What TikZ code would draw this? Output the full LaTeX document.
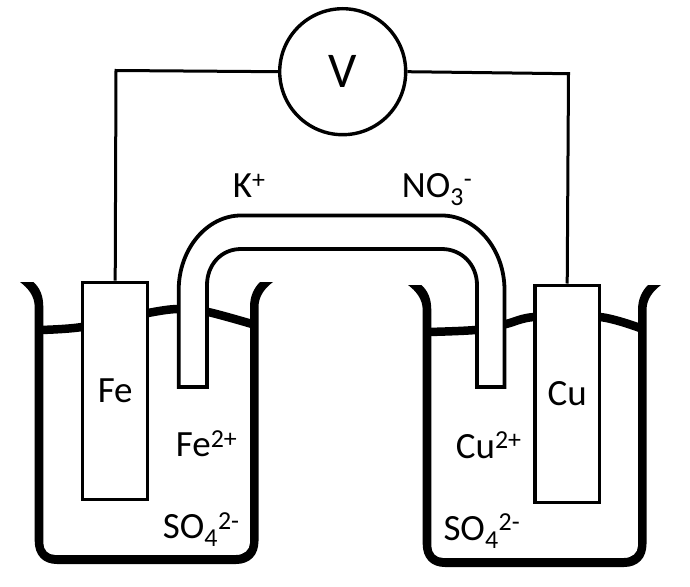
\documentclass[tikz,border=0pt]{standalone}
\usepackage{fontspec}
\setmainfont{Carlito}

\tikzset{
    wire/.style={line width=3pt},
    surface/.style={line width=8.5pt},
    electrode/.style={draw, fill=white, line width=3.4pt, minimum width=65pt, minimum height=217pt, inner sep=0pt, font=\fontsize{37}{40}\selectfont},
    voltmeter/.style={circle, draw, fill=white, line width=3.4pt, minimum size=126pt, inner sep=0pt, font=\fontsize{50}{52}\selectfont},
    ion/.style={anchor=base west, inner sep=0pt, font=\fontsize{37}{40}\selectfont},
    beaker/.pic={
        \fill (20,282) -- (33.5,282) .. controls (40,288) and (43.3,296) .. (43.3,307)
            -- (43.3,543) .. controls (43.3,550) and (48,555) .. (55,555)
            -- (236,555) .. controls (244,555) and (250,550) .. (250,543)
            -- (250,307) .. controls (250,296) and (254,288) .. (260,282)
            -- (273,282) .. controls (265,288) and (258.5,296) .. (258.5,307)
            -- (258.5,541) .. controls (258.5,555) and (250,564) .. (236,564)
            -- (57,564) .. controls (43,564) and (34.7,555) .. (34.7,541)
            -- (34.7,307) .. controls (34.7,296) and (28,288) .. (20,282) -- cycle;
    },
}

\begin{document}
\begin{tikzpicture}[x=1pt, y=-1pt]
    \useasboundingbox (0,0) rectangle (690,586);

    % liquid level
    \draw[surface] plot[smooth] coordinates {(40,330) (82,327) (148,313) (178,309) (208,312) (252,324)};
    \draw[surface] plot[smooth] coordinates {(428,332) (475,330) (506,324) (534,317) (600,317) (640,328)};

    % glass
    \pic at (0,0) {beaker};
    \pic at (388,3) {beaker};

    % electrodes
    \node[electrode] (fe) at (115.2,390.8) {Fe};
    \node[electrode, minimum width=64.5pt] (cu) at (567.2,393.7) {Cu};

    % salt bridge
    \draw[fill=white, line width=3.8pt] (178.7,387) -- (178.7,290)
        .. controls (178.7,249) and (207,215.5) .. (241,215.5)
        -- (441.7,215.5) .. controls (476,215.5) and (504.5,249) .. (504.5,290)
        -- (504.5,387) -- (477,387) -- (477,285)
        .. controls (477,265) and (462,249) .. (441.7,249)
        -- (241,249) .. controls (221,249) and (207,265) .. (207,285)
        -- (207,387) -- cycle;

    % circuit
    \node[voltmeter] (volt) at (342.7,71.7) {V};
    \coordinate (cornerl) at (116,70.5);
    \coordinate (cornerr) at (568.5,73.7);
    \draw[wire] (volt.west) -- (cornerl) -- (fe.north);
    \draw[wire] (volt.east) -- (cornerr) -- (cu.north);

    % ions
    \node[ion] (kplus) at (232.7,197.3) {K\textsuperscript{+}};
    \node[ion] (nitrate) at (401.7,197) {NO\textsubscript{3}\textsuperscript{-}};
    \node[ion] (feion) at (175.7,456.7) {Fe\textsuperscript{2+}};
    \node[ion] (sulfl) at (162.7,538.3) {SO\textsubscript{4}\textsuperscript{2-}};
    \node[ion] (cuion) at (455.7,458) {Cu\textsuperscript{2+}};
    \node[ion] (sulfr) at (443.3,540) {SO\textsubscript{4}\textsuperscript{2-}};
\end{tikzpicture}
\end{document}
